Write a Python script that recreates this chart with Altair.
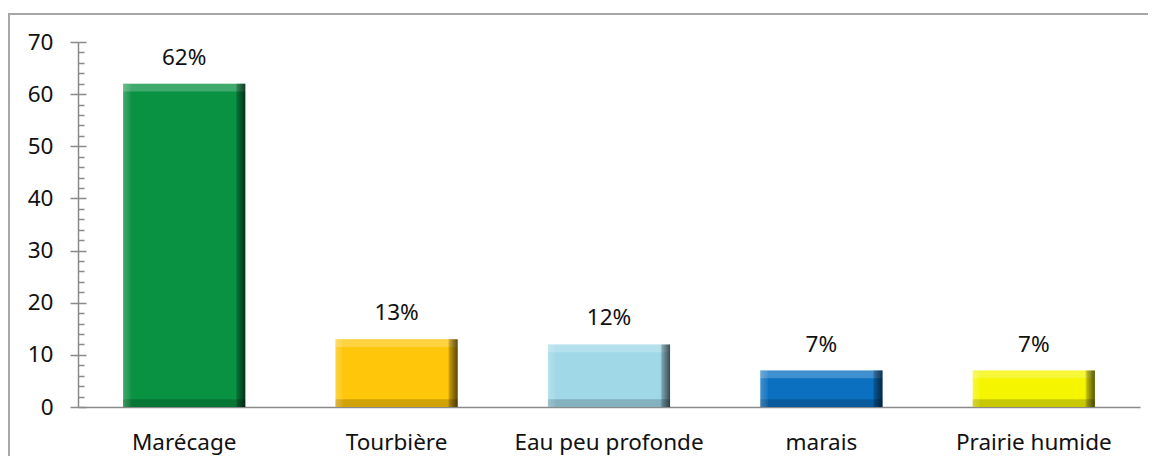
import altair as alt
import pandas as pd

categories = ["Marécage", "Tourbière", "Eau peu profonde", "marais", "Prairie humide"]
values = [62, 13, 12, 7, 7]
labels = ["62%", "13%", "12%", "7%", "7%"]
colors = ["#0a9243", "#ffc60a", "#a0d8e8", "#0b70c0", "#f5f500"]

df = pd.DataFrame({"cat": categories, "value": values, "label": labels})

FONT = "Noto Sans"
GRAY = "#8a8a8a"
W, H = 1062, 365
BEVEL = 1.5

xband = alt.Scale(domain=categories, paddingInner=0.425, paddingOuter=0.2125)
yscale = alt.Scale(domain=[0, 70], nice=False, zero=True)

x_axis = alt.Axis(title=None, labelAngle=0, ticks=False, labelPadding=24, labelLimit=0,
                  labelFontSize=22.5, labelFont=FONT, labelColor="#111",
                  domainColor=GRAY, domainWidth=1.5, grid=False)
x_enc = alt.X("cat:N", sort=categories, scale=xband, axis=x_axis)

base = alt.Chart(df).transform_calculate(
    top2=f"datum.value - {BEVEL}", bot=f"{BEVEL}", zero="0"
)

bars = base.mark_bar().encode(
    x=x_enc,
    y=alt.Y("value:Q", scale=yscale,
            axis=alt.Axis(title=None, orient="left", values=list(range(0, 71, 10)),
                          tickSize=8, tickColor=GRAY, tickWidth=1.5,
                          domainColor=GRAY, domainWidth=1.5, labelPadding=17,
                          labelFontSize=22.5, labelFont=FONT, labelColor="#111",
                          grid=False)),
    color=alt.Color("cat:N", scale=alt.Scale(domain=categories, range=colors), legend=None),
)

top_strip = base.mark_bar(color="white", opacity=0.22).encode(
    x=x_enc,
    y=alt.Y("value:Q", scale=yscale,
            axis=alt.Axis(title=None, orient="right", offset=-W, values=list(range(0, 71, 2)),
                          tickSize={"condition": {"test": "datum.value % 10 === 0", "value": 8}, "value": 6},
                          tickColor=GRAY, tickWidth=1.5, domain=False, labels=False, grid=False)),
    y2="top2:Q",
)

bottom_strip = base.mark_bar(color="black", opacity=0.18).encode(
    x=x_enc,
    y=alt.Y("bot:Q", scale=yscale, axis=None),
    y2="zero:Q",
)

grad = alt.Gradient(
    gradient="linear", x1=0, x2=1, y1=0, y2=0,
    stops=[
        alt.GradientStop(offset=0, color="rgba(255,255,255,0.22)"),
        alt.GradientStop(offset=0.06, color="rgba(255,255,255,0.05)"),
        alt.GradientStop(offset=0.07, color="rgba(0,0,0,0)"),
        alt.GradientStop(offset=0.92, color="rgba(0,0,0,0)"),
        alt.GradientStop(offset=0.935, color="rgba(0,0,0,0.25)"),
        alt.GradientStop(offset=1, color="rgba(0,0,0,0.65)"),
    ],
)
shade = base.mark_bar(color=grad).encode(
    x=x_enc,
    y=alt.Y("value:Q", scale=yscale, axis=None),
)

text = base.mark_text(dy=-19, baseline="alphabetic", fontSize=22.5, font=FONT, color="#111").encode(
    x=x_enc,
    y=alt.Y("value:Q", scale=yscale, axis=None),
    text="label:N",
)

frame_data = alt.Data(values=[{"a": 1}])
frame_left = alt.Chart(frame_data).mark_rule(color="#a6a6a6", strokeWidth=2).encode(
    x=alt.value(-69), y=alt.value(-28), y2=alt.value(470)
)
frame_top = alt.Chart(frame_data).mark_rule(color="#a6a6a6", strokeWidth=2).encode(
    x=alt.value(-70), x2=alt.value(1120), y=alt.value(-28)
)

chart = alt.layer(bars, top_strip, bottom_strip, shade, text, frame_left, frame_top).resolve_scale(
    y="shared"
).resolve_axis(y="independent").properties(
    width=W, height=H,
    autosize=alt.AutoSizeParams(type="none"),
    padding={"left": 70, "top": 34, "right": 8, "bottom": 49},
).configure(font=FONT, view=alt.ViewConfig(stroke="transparent", strokeWidth=0))

chart.save("out.html", embed_options={"renderer": "svg", "actions": False})
